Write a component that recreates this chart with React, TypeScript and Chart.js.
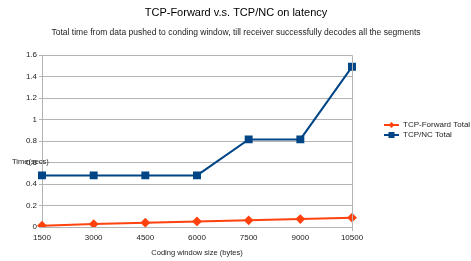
import React, { useEffect, useRef } from "react";
import { Chart, registerables } from "chart.js";

Chart.register(...registerables);

const categories = ["1500", "3000", "4500", "6000", "7500", "9000", "10500"];
const forwardTotal = [0.012, 0.027, 0.04, 0.052, 0.062, 0.074, 0.087];
const ncTotal = [0.48, 0.48, 0.48, 0.48, 0.815, 0.815, 1.49];
const seriesNames = ["TCP-Forward Total", "TCP/NC Total"];
const titleText = "TCP-Forward v.s. TCP/NC on latency";
const subtitleText = "Total time from data pushed to conding window, till receiver successfully decodes all the segments";
const yTitle = "Time(secs)";
const xTitle = "Coding window size (bytes)";

const RED = "#ff420e";
const BLUE = "#004586";
const FONT = "'Liberation Sans', Arial, sans-serif";

export default function App() {
  const ref = useRef<HTMLCanvasElement | null>(null);
  useEffect(() => {
    document.body.style.margin = "0";
    const canvas = ref.current!;
    const overlay = {
      id: "overlay",
      afterDraw(chart: any) {
        const ctx = chart.ctx as CanvasRenderingContext2D;
        const a = chart.chartArea;
        ctx.save();
        // border
        ctx.strokeStyle = "#b3b3b3";
        ctx.lineWidth = 1;
        ctx.beginPath();
        ctx.moveTo(a.left, a.top + 0.5);
        ctx.lineTo(a.right + 0.5, a.top + 0.5);
        ctx.lineTo(a.right + 0.5, a.bottom + 4);
        ctx.stroke();
        ctx.fillStyle = "#000";
        ctx.textAlign = "center";
        ctx.textBaseline = "middle";
        ctx.font = `11px ${FONT}`;
        ctx.fillText(titleText, 236, 13);
        ctx.fillStyle = "#222";
        ctx.font = `8.5px ${FONT}`;
        ctx.fillText(subtitleText, 236, 33);
        ctx.font = `7.5px ${FONT}`;
        ctx.fillText(xTitle, 197, 253);
        ctx.textAlign = "left";
        ctx.fillText(yTitle, 12, 162);
        // legend
        const colors = [RED, BLUE];
        const ys = [125, 135];
        for (let i = 0; i < 2; i++) {
          const y = ys[i];
          ctx.strokeStyle = colors[i];
          ctx.fillStyle = colors[i];
          ctx.lineWidth = 2;
          ctx.beginPath();
          ctx.moveTo(384, y);
          ctx.lineTo(399, y);
          ctx.stroke();
          if (i === 0) {
            ctx.beginPath();
            ctx.moveTo(391.5, y - 3);
            ctx.lineTo(394.5, y);
            ctx.lineTo(391.5, y + 3);
            ctx.lineTo(388.5, y);
            ctx.closePath();
            ctx.fill();
          } else {
            ctx.fillRect(388.5, y - 3, 6, 6);
          }
          ctx.fillStyle = "#222";
          ctx.font = `8px ${FONT}`;
          ctx.fillText(seriesNames[i], 403, y);
        }
        ctx.restore();
      },
    };
    const chart = new Chart(canvas, {
      type: "line",
      data: {
        labels: categories,
        datasets: [
          {
            label: seriesNames[0],
            data: forwardTotal,
            borderColor: RED,
            backgroundColor: RED,
            borderWidth: 2,
            pointStyle: "rectRot",
            pointRadius: 3.5,
            tension: 0,
          },
          {
            label: seriesNames[1],
            data: ncTotal,
            borderColor: BLUE,
            backgroundColor: BLUE,
            borderWidth: 2,
            pointStyle: "rect",
            pointRadius: 4.2,
            tension: 0,
          },
        ],
      },
      options: {
        animation: false,
        responsive: false,
        layout: { padding: { left: 0, right: 119, top: 55, bottom: 0 } },
        plugins: { legend: { display: false }, title: { display: false }, tooltip: { enabled: false } },
        scales: {
          x: {
            offset: false,
            grid: { display: false, drawTicks: false },
            border: { display: true, color: "#b3b3b3" },
            ticks: { color: "#222", font: { size: 8, family: FONT }, padding: 6, maxRotation: 0, autoSkip: false },
            afterFit: (s: any) => { s.height = 34; },
          },
          y: {
            min: 0,
            max: 1.6,
            grid: { color: "#b3b3b3", tickLength: 3 },
            border: { display: true, color: "#b3b3b3" },
            ticks: {
              stepSize: 0.2,
              color: "#222",
              font: { size: 8, family: FONT },
              padding: 2,
              callback: (v: any) => String(Number(Number(v).toFixed(1))),
            },
            afterFit: (s: any) => { s.width = 42; },
          },
        },
      },
      plugins: [overlay],
    });
    return () => chart.destroy();
  }, []);
  return <canvas ref={ref} width={471} height={261} style={{ display: "block" }} />;
}
